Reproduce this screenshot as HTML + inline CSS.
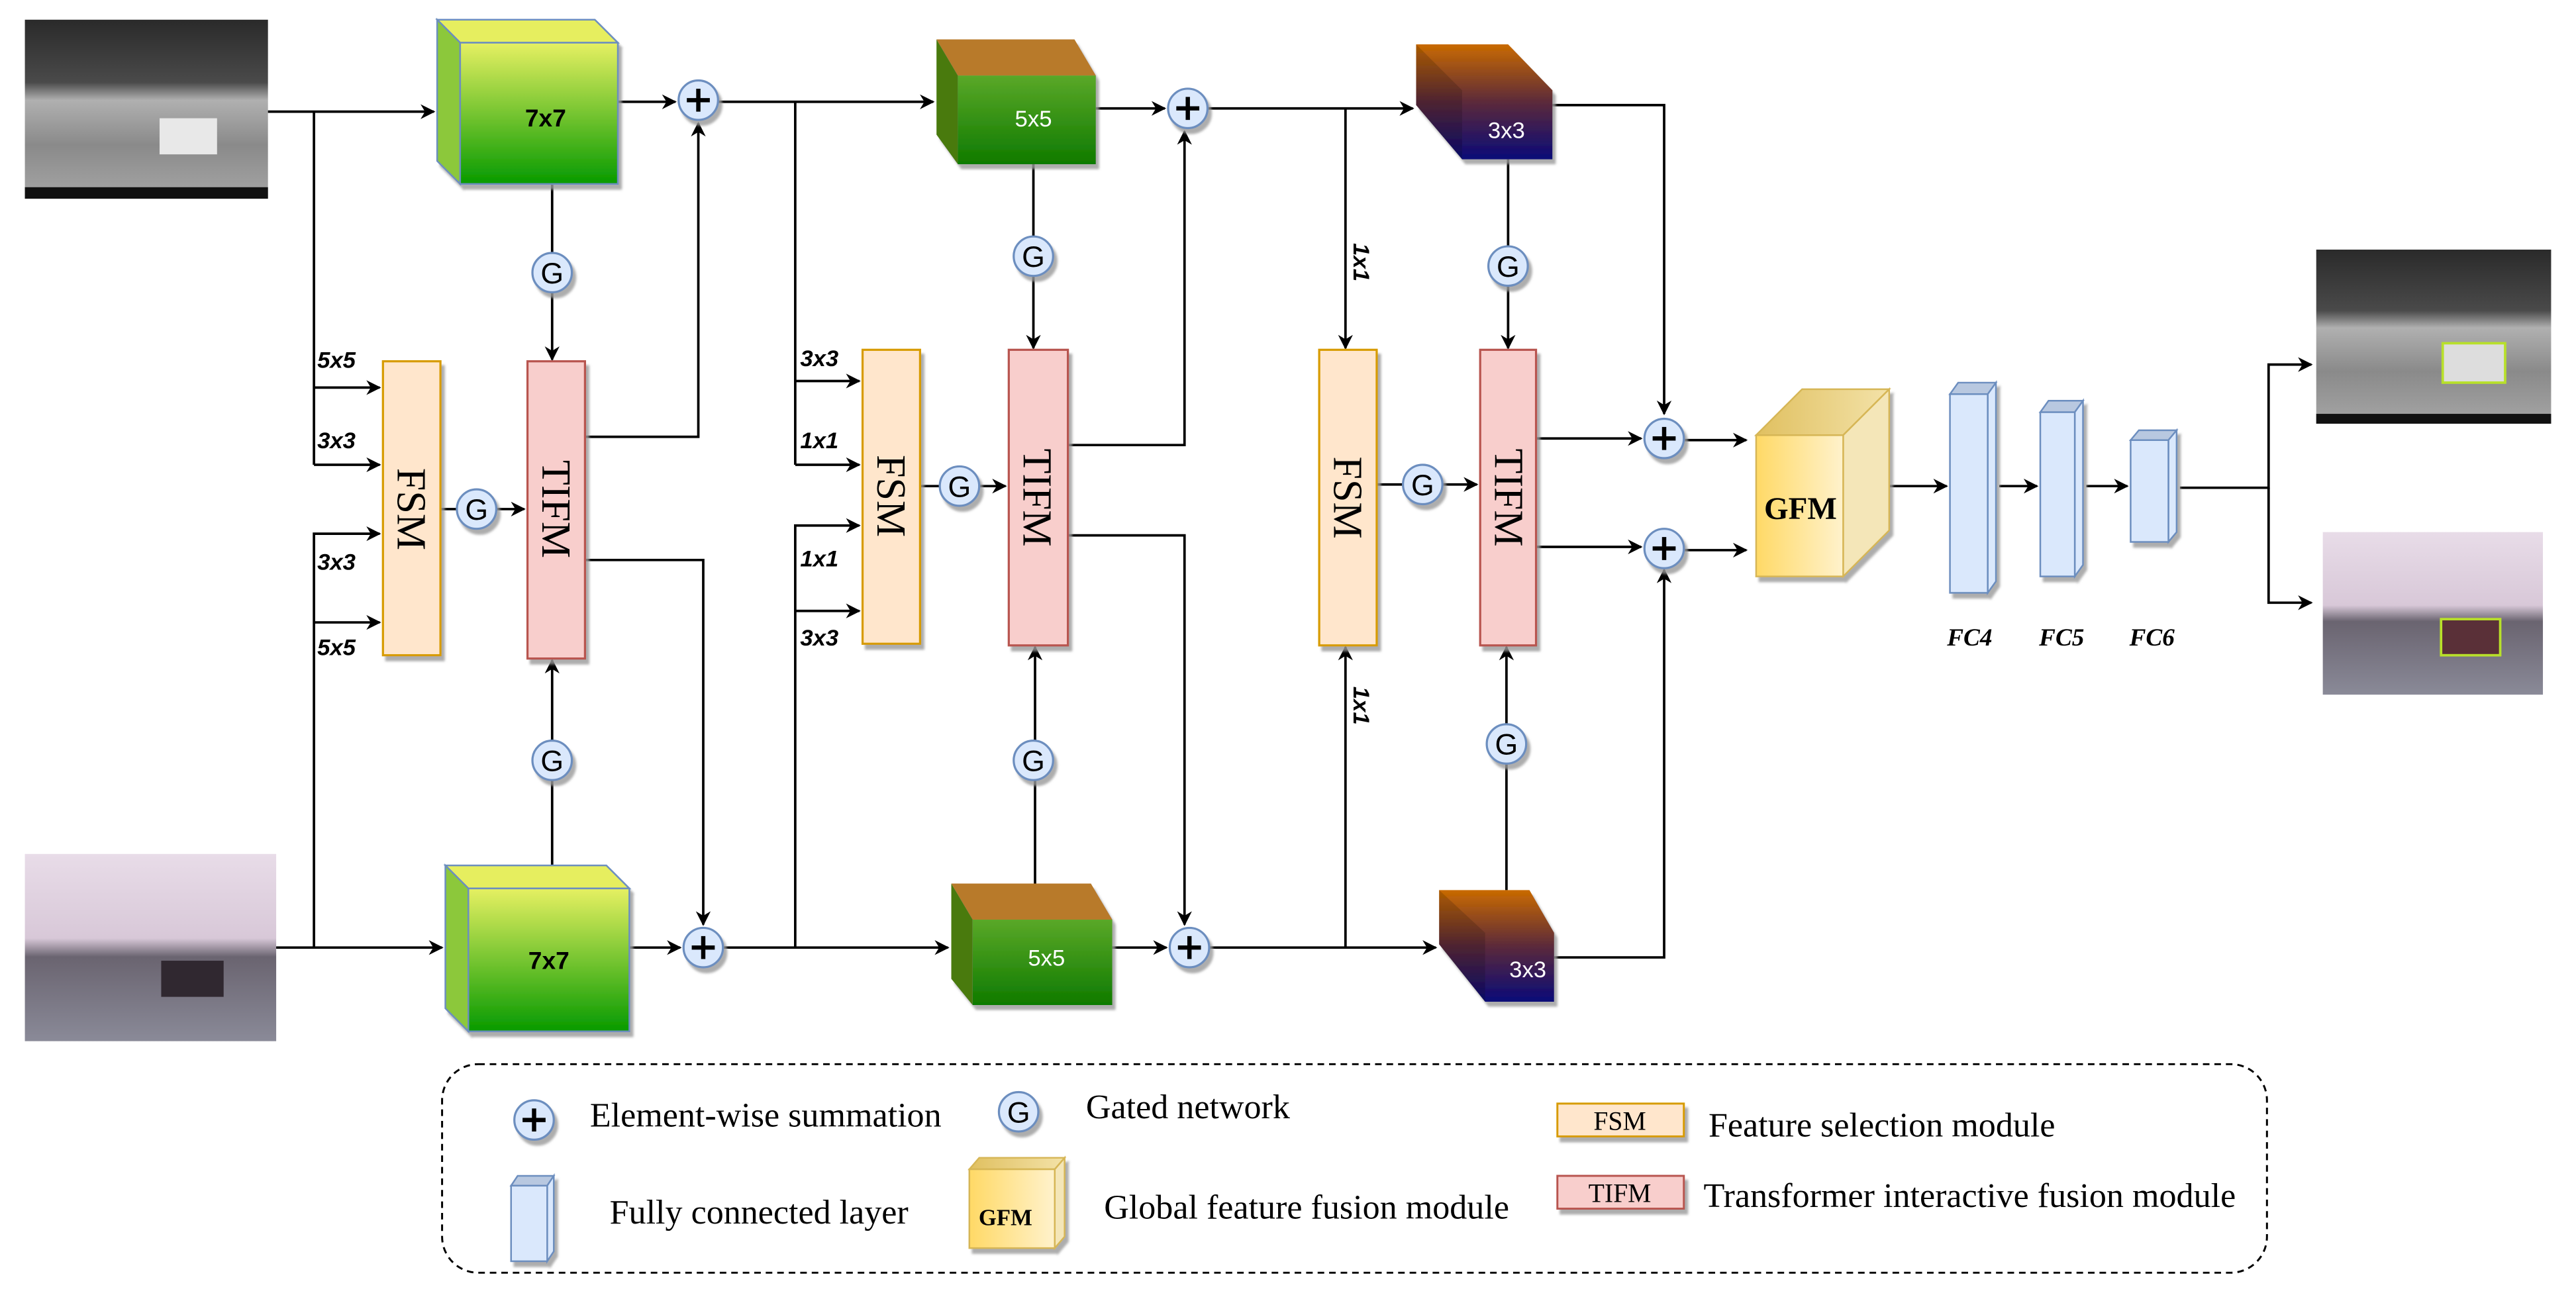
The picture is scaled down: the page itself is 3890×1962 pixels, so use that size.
<!DOCTYPE html>
<html><head><meta charset="utf-8"><style>html,body{margin:0;padding:0;background:#fff}svg{display:block}</style></head>
<body>
<svg width="3890" height="1962" viewBox="0 0 1568 791" xmlns="http://www.w3.org/2000/svg" font-family="'Liberation Sans',sans-serif">
<defs>
<marker id="a" viewBox="0 0 10 10" refX="9" refY="5" markerWidth="9" markerHeight="9" markerUnits="userSpaceOnUse" orient="auto"><path d="M0,0 L10,5 L0,10 L3,5z" fill="#000"/></marker>
<linearGradient id="g7" x1="0" y1="0" x2="0" y2="1"><stop offset="0" stop-color="#e6f062"/><stop offset="1" stop-color="#079a00"/></linearGradient>
<linearGradient id="g5f" x1="0" y1="0" x2="0" y2="1"><stop offset="0" stop-color="#5aa828"/><stop offset="1" stop-color="#0f7a00"/></linearGradient>
<linearGradient id="g3" x1="0" y1="0" x2="0" y2="1"><stop offset="0" stop-color="#c96a00"/><stop offset="0.5" stop-color="#5c2a3a"/><stop offset="1" stop-color="#0a0a78"/></linearGradient>
<linearGradient id="gf" x1="0" y1="0" x2="1" y2="0"><stop offset="0" stop-color="#ffd966"/><stop offset="1" stop-color="#fff2cc"/></linearGradient>
<linearGradient id="gt" x1="0" y1="0" x2="1" y2="0"><stop offset="0" stop-color="#e0c060"/><stop offset="1" stop-color="#f3e2a8"/></linearGradient>
<linearGradient id="ir" x1="0" y1="0" x2="0" y2="1"><stop offset="0" stop-color="#2a2a2a"/><stop offset="0.35" stop-color="#4a4a4a"/><stop offset="0.45" stop-color="#b0b0b0"/><stop offset="0.7" stop-color="#8a8a8a"/><stop offset="1" stop-color="#a5a5a5"/></linearGradient>
<linearGradient id="rgb" x1="0" y1="0" x2="0" y2="1"><stop offset="0" stop-color="#e8dce8"/><stop offset="0.45" stop-color="#d8c8d8"/><stop offset="0.55" stop-color="#6a6470"/><stop offset="1" stop-color="#8a8a98"/></linearGradient>
<filter id="sh" x="-30%" y="-30%" width="160%" height="160%"><feDropShadow dx="2" dy="3" stdDeviation="0.8" flood-color="#999" flood-opacity="0.8"/></filter>
<g id="plus"><circle r="12" fill="#dae8fc" stroke="#6c8ebf" stroke-width="1.3" filter="url(#sh)"/><path d="M-7,0H7M0,-7V7" stroke="#000" stroke-width="2.6"/></g>
<g id="G"><circle r="12" fill="#dae8fc" stroke="#6c8ebf" stroke-width="1.3" filter="url(#sh)"/><text y="6.5" text-anchor="middle" font-size="18">G</text></g>
</defs>

<rect x="15" y="12" width="148" height="109" fill="url(#ir)"/><rect x="15" y="114" width="148" height="7" fill="#111"/>
<rect x="97" y="72" width="35" height="22" fill="#e8e8e8"/>
<rect x="15" y="520" width="153" height="114" fill="url(#rgb)"/><rect x="98" y="585" width="38" height="22" fill="#302830"/>
<rect x="1410" y="152" width="143" height="106" fill="url(#ir)"/><rect x="1410" y="252" width="143" height="6" fill="#111"/>
<rect x="1487" y="209" width="38" height="24" fill="#ddd" stroke="#b8e02a" stroke-width="1.5"/>
<rect x="1414" y="324" width="134" height="99" fill="url(#rgb)"/>
<rect x="1486" y="377" width="36" height="22" fill="#5a3038" stroke="#b8e02a" stroke-width="1.5"/>

<g stroke="#000" stroke-width="1.5" fill="none">
<path d="M163,68H264" marker-end="url(#a)"/>
<path d="M191,68V283"/><path d="M191,236H231" marker-end="url(#a)"/><path d="M191,283H231" marker-end="url(#a)"/>
<path d="M191,577V325H231" marker-end="url(#a)"/><path d="M191,379H231" marker-end="url(#a)"/>
<path d="M168,577H269" marker-end="url(#a)"/>
<path d="M376,62H411" marker-end="url(#a)"/>
<path d="M336,112V219" marker-end="url(#a)"/>
<path d="M336,527V402" marker-end="url(#a)"/>
<path d="M268,310H319" marker-end="url(#a)"/>
<path d="M356,266H425V75" marker-end="url(#a)"/>
<path d="M356,341H428V563" marker-end="url(#a)"/>
<path d="M383,577H414" marker-end="url(#a)"/>
<path d="M437,62H568" marker-end="url(#a)"/>
<path d="M484,62V283"/><path d="M484,232H523" marker-end="url(#a)"/><path d="M484,283H523" marker-end="url(#a)"/>
<path d="M484,577V320H523" marker-end="url(#a)"/><path d="M484,372H523" marker-end="url(#a)"/>
<path d="M440,577H577" marker-end="url(#a)"/>
<path d="M667,66H709" marker-end="url(#a)"/>
<path d="M629,100V212" marker-end="url(#a)"/>
<path d="M630,538V394" marker-end="url(#a)"/>
<path d="M560,296H612" marker-end="url(#a)"/>
<path d="M650,271H721V80" marker-end="url(#a)"/>
<path d="M650,326H721V563" marker-end="url(#a)"/>
<path d="M677,577H710" marker-end="url(#a)"/>
<path d="M735,66H860" marker-end="url(#a)"/>
<path d="M819,66V212" marker-end="url(#a)"/>
<path d="M736,577H874" marker-end="url(#a)"/>
<path d="M819,577V394" marker-end="url(#a)"/>
<path d="M945,64H1013V252" marker-end="url(#a)"/>
<path d="M946,583H1013V347" marker-end="url(#a)"/>
<path d="M918,97V212" marker-end="url(#a)"/>
<path d="M917,542V394" marker-end="url(#a)"/>
<path d="M838,295H899" marker-end="url(#a)"/>
<path d="M935,267H999" marker-end="url(#a)"/>
<path d="M935,333H999" marker-end="url(#a)"/>
<path d="M1025,268H1063" marker-end="url(#a)"/>
<path d="M1025,335H1063" marker-end="url(#a)"/>
<path d="M1150,296H1185" marker-end="url(#a)"/>
<path d="M1217,296H1240" marker-end="url(#a)"/>
<path d="M1270,296H1295" marker-end="url(#a)"/>
<path d="M1327,297H1381V222H1407" marker-end="url(#a)"/>
<path d="M1381,297V367H1407" marker-end="url(#a)"/>
</g>

<g filter="url(#sh)" stroke="#6c8ebf" stroke-width="1">
<path d="M266,12H362L376,26H280Z" fill="#e6ee5e"/><path d="M266,12L280,26V112L266,98Z" fill="#8cc83a"/><rect x="280" y="26" width="96" height="86" fill="url(#g7)"/>
<path d="M271,527H369L383,541H285Z" fill="#e6ee5e"/><path d="M271,527L285,541V628L271,614Z" fill="#8cc83a"/><rect x="285" y="541" width="98" height="87" fill="url(#g7)"/>
</g>
<g font-weight="bold" font-size="15" text-anchor="middle"><text x="332" y="77">7x7</text><text x="334" y="590">7x7</text></g>
<g filter="url(#sh)">
<path d="M570,24H654L667,46H583Z" fill="#b87a2a"/><path d="M570,24L583,46V100L570,82Z" fill="#4a7a10"/><rect x="583" y="46" width="84" height="54" fill="url(#g5f)"/>
<path d="M579,538H664L677,560H592Z" fill="#b87a2a"/><path d="M579,538L592,560V612L579,596Z" fill="#4a7a10"/><rect x="592" y="560" width="85" height="52" fill="url(#g5f)"/>
</g>
<g fill="#fff" font-size="14" text-anchor="middle"><text x="629" y="77">5x5</text><text x="637" y="588">5x5</text></g>
<g filter="url(#sh)">
<path d="M862,27H918L945,55V97H890L862,64Z" fill="url(#g3)"/><path d="M862,27L890,55V97L862,64Z" fill="#000" opacity="0.15"/>
<path d="M876,542H931L946,568V610H904L876,575Z" fill="url(#g3)"/><path d="M876,542L904,568V610L876,575Z" fill="#000" opacity="0.15"/>
</g>
<g fill="#fff" font-size="14" text-anchor="middle"><text x="917" y="84">3x3</text><text x="930" y="595">3x3</text></g>

<g filter="url(#sh)" stroke-width="1.3">
<rect x="233" y="220" width="35" height="179" fill="#ffe6cc" stroke="#d79b00"/>
<rect x="321" y="220" width="35" height="181" fill="#f8cecc" stroke="#b85450"/>
<rect x="525" y="213" width="35" height="179" fill="#ffe6cc" stroke="#d79b00"/>
<rect x="614" y="213" width="36" height="180" fill="#f8cecc" stroke="#b85450"/>
<rect x="803" y="213" width="35" height="180" fill="#ffe6cc" stroke="#d79b00"/>
<rect x="901" y="213" width="34" height="180" fill="#f8cecc" stroke="#b85450"/>
</g>
<g font-family="'Liberation Serif',serif" font-size="25" text-anchor="middle">
<text transform="translate(242,310) rotate(90)">FSM</text>
<text transform="translate(330,310) rotate(90)">TIFM</text>
<text transform="translate(534,302) rotate(90)">FSM</text>
<text transform="translate(623,303) rotate(90)">TIFM</text>
<text transform="translate(812,303) rotate(90)">FSM</text>
<text transform="translate(910,303) rotate(90)">TIFM</text>
</g>

<g font-size="14" font-weight="bold" font-style="italic">
<text x="193" y="224">5x5</text><text x="193" y="273">3x3</text><text x="193" y="347">3x3</text><text x="193" y="399">5x5</text>
<text x="487" y="223">3x3</text><text x="487" y="273">1x1</text><text x="487" y="345">1x1</text><text x="487" y="393">3x3</text>
<text transform="translate(824,148) rotate(90)">1x1</text>
<text transform="translate(824,418) rotate(90)">1x1</text>
</g>

<use href="#plus" x="425" y="61"/><use href="#plus" x="428" y="577"/>
<use href="#plus" x="723" y="66"/><use href="#plus" x="724" y="577"/>
<use href="#plus" x="1013" y="267"/><use href="#plus" x="1013" y="334"/>
<use href="#G" x="336" y="166"/><use href="#G" x="290" y="310"/><use href="#G" x="336" y="463"/>
<use href="#G" x="629" y="156"/><use href="#G" x="584" y="296"/><use href="#G" x="629" y="463"/>
<use href="#G" x="918" y="162"/><use href="#G" x="866" y="295"/><use href="#G" x="917" y="453"/>

<g filter="url(#sh)" stroke="#d6b656" stroke-width="1">
<path d="M1069,265L1097,237H1150L1122,265Z" fill="url(#gt)"/>
<path d="M1122,265L1150,237V323L1122,351Z" fill="#f4e6b8"/>
<rect x="1069" y="265" width="53" height="86" fill="url(#gf)"/>
</g>
<text x="1096" y="316" text-anchor="middle" font-family="'Liberation Serif',serif" font-weight="bold" font-size="19">GFM</text>

<g filter="url(#sh)" stroke="#6c8ebf" stroke-width="1" fill="#dae8fc">
<path d="M1187,240L1192,233H1215L1210,240Z" fill="#b8c8e0"/><path d="M1210,240L1215,233V354L1210,361Z"/><rect x="1187" y="240" width="23" height="121"/>
<path d="M1242,251L1247,244H1268L1263,251Z" fill="#b8c8e0"/><path d="M1263,251L1268,244V344L1263,351Z"/><rect x="1242" y="251" width="21" height="100"/>
<path d="M1297,268L1302,262H1325L1320,268Z" fill="#b8c8e0"/><path d="M1320,268L1325,262V324L1320,330Z"/><rect x="1297" y="268" width="23" height="62"/>
</g>
<g font-family="'Liberation Serif',serif" font-style="italic" font-weight="bold" font-size="15" text-anchor="middle">
<text x="1199" y="393">FC4</text><text x="1255" y="393">FC5</text><text x="1310" y="393">FC6</text></g>

<rect x="269" y="648" width="1111" height="127" rx="22" fill="none" stroke="#000" stroke-width="1.2" stroke-dasharray="4,3"/>
<use href="#plus" x="325" y="682"/><use href="#G" x="620" y="677"/>
<g font-family="'Liberation Serif',serif" font-size="21">
<text x="359" y="686">Element-wise summation</text>
<text x="661" y="681">Gated network</text>
<text x="1040" y="692">Feature selection module</text>
<text x="371" y="745">Fully connected layer</text>
<text x="672" y="742">Global feature fusion module</text>
<text x="1037" y="735">Transformer interactive fusion module</text>
</g>
<g filter="url(#sh)" stroke-width="1.2">
<rect x="948" y="672" width="77" height="20" fill="#ffe6cc" stroke="#d79b00"/>
<rect x="948" y="716" width="77" height="20" fill="#f8cecc" stroke="#b85450"/>
</g>
<g font-family="'Liberation Serif',serif" font-size="16" text-anchor="middle"><text x="986" y="688">FSM</text><text x="986" y="732">TIFM</text></g>
<g filter="url(#sh)" stroke="#6c8ebf" stroke-width="1" fill="#dae8fc">
<path d="M311,722L315,716H337L333,722Z" fill="#b8c8e0"/><path d="M333,722L337,716V762L333,768Z"/><rect x="311" y="722" width="22" height="46"/>
</g>
<g filter="url(#sh)" stroke="#d6b656" stroke-width="1">
<path d="M590,712L596,705H648L642,712Z" fill="url(#gt)"/><path d="M642,712L648,705V753L642,760Z" fill="#f4e6b8"/><rect x="590" y="712" width="52" height="48" fill="url(#gf)"/>
</g>
<text x="612" y="746" text-anchor="middle" font-family="'Liberation Serif',serif" font-weight="bold" font-size="14">GFM</text>
</svg>
</body></html>
